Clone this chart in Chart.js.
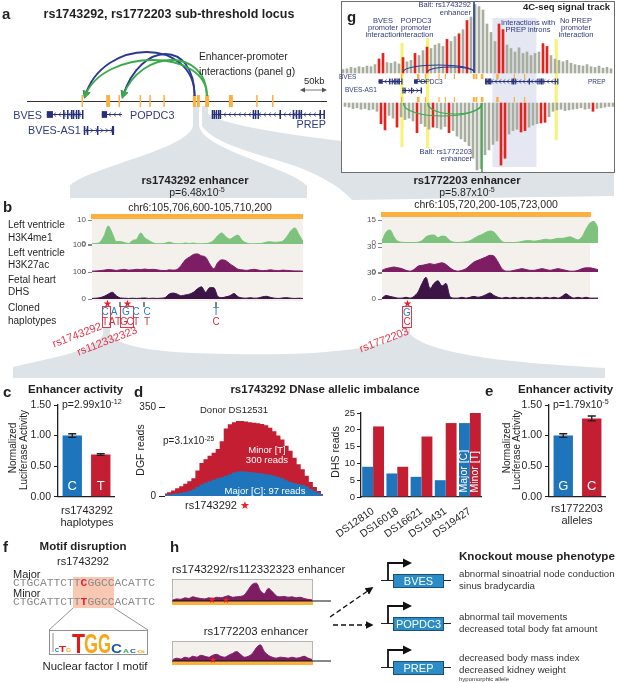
<!DOCTYPE html>
<html>
<head>
<meta charset="utf-8">
<title>rs1743292 / rs1772203 sub-threshold locus</title>
<script src="https://cdn.jsdelivr.net/npm/chart.js@4.4.1/dist/chart.umd.min.js"></script>
<style>
  html, body { margin: 0; padding: 0; background: #fff; }
  #fig { position: relative; width: 617px; height: 683px; overflow: hidden;
         font-family: "Liberation Sans", Arial, Helvetica, sans-serif; color: #231f20; }
  #fig canvas, #fig svg, .t, .blk { position: absolute; }
  .t { white-space: nowrap; line-height: 1; }
  .seq { font-family: "Liberation Mono", "DejaVu Sans Mono", monospace; color: #8a8a8a; }
</style>
</head>
<body>
<div id="fig"></div>
<script>
// ---------------- data ----------------

// panel a / g : locus, positions in kb from the left end of the drawn region
const geneNames  = ["BVES", "POPDC3", "PREP", "BVES-AS1"];
const geneStart  = [45, 170, 420, 129];
const geneEnd    = [127, 216, 676, 198];
const geneStrand = [-1, -1, -1, 1];
const geneRow    = [0, 0, 0, 1];
const geneExons  = [
  [[45, 59], [82, 84], [91, 93], [100, 102], [104, 106], [111, 113], [116, 118], [125, 127]],
  [[170, 182]],
  [[420, 422], [424, 426], [429, 431], [434, 436], [438, 440], [513, 515], [518, 520], [524, 526],
   [574, 576], [604, 606], [611, 613], [617, 619], [622, 624], [665, 667], [674, 676]],
  [[129, 131], [136, 138], [159, 161], [193, 198]]
];
const enhStart = [124, 180, 208, 256, 278, 310, 377, 386, 405, 459, 521, 557];
const enhEnd   = [126, 189, 210, 258, 280, 312, 384, 393, 414, 468, 523, 559];
// enhancer -> promoter interactions (kb)
const arcFrom = [381, 381, 409, 409];
const arcTo   = [132, 218, 132, 218];

// panel b : signal tracks
const h3k4me1Left = [0.1,0.2,0.8,3.5,7.5,4.5,1.0,1.0,0.6,0.2, 1.5,2.0,4.6,2.5,1.5,0.5,0.1,0.1,0.3,0.8,
                     0.3,0.1,0.1,0.4,0.2,0.4,0.1,0.1,0.2,0.5, 1.5,3.5,4.6,3.0,2.0,3.0,3.7,1.5,0.5,0.1,
                     0.1,0.2,0.3,0.8,0.9,0.7,0.8,1.2,3.0,5.5, 6.7,4.0,1.0];
const h3k27acLeft = [3,4,5,7,9,8,6,8,10,7, 8,10,9,11,9,10,8,6,5,8, 7,10,25,45,55,65,67,60,55,30,
                     12,35,45,42,30,20,10,8,6,8, 10,7,5,6,8,6,5,7,6,5, 4,4,3];
const dhsLeft     = [2,3,5,10,18,25,12,4,3,2, 3,2,3,4,2,3,2,3,5,18, 22,18,12,15,18,25,38,45,25,42,
                     42,10,5,8,12,20,8,4,3,5, 3,4,8,10,6,3,2,4,5,3, 2,3,2];
const h3k4me1Right = [1.5,7,8.5,4,1,0.5,0.3,0.3,0.3,0.5, 1.5,4,5,5.2,3.5,4.5,4,1.5,0.5,0.3,
                      0.5,0.8,1.5,3,4.5,5.5,7,7.8,7,4, 1,0.3,0.3,0.3,0.5,1,1.5,1.5,1.2,1.5,
                      2,2.5,2,2.5,3,3,3.5,4,3,2, 4,9,13,14,10];
const h3k27acRight = [2,4,5,6,5,4,2,1,3,7, 8,9,10,9,10,11,9,5,2,1, 2,4,8,12,14,16,18,20,19,12,
                      4,1,1,2,3,4,3,2,2,3, 4,3,2,3,4,3,2,1,1,2, 4,5,5,4,3];
const dhsRight     = [1,4,3,2,1,1,2,1,3,8, 18,25,12,18,21,15,18,3,1,1, 2,1,2,3,2,3,5,7,4,2,
                      1,2,1,2,1,2,1,2,1,2, 1,2,1,2,1,3,6,3,1,2, 1,2,1,1,1];

// panel c : rs1743292 haplotypes
const hapLabels   = ["C", "T"];
const hapActivity = [1.00, 0.69];
const hapErr      = [0.03, 0.015];
const activityTicks = [0, 0.5, 1.0, 1.5];

// panel d : DGF reads (donor DS12531) and DHS reads per donor
const dgfMinor = [10,15,22,30,38,48,58,70,100,130, 145,158,170,185,215,265,282,290,295,295,
                  293,290,288,286,283,278,268,255,238,222, 198,178,150,125,105,80,55,35,20,8];
const dgfMajor = [4,6,8,10,13,16,20,27,35,45, 52,58,64,70,74,80,86,92,96,97,
                  96,94,92,90,88,86,84,80,75,70, 62,55,50,47,44,38,28,20,12,5];
const dgfTicks = [0, 350];
const donors   = ["DS12810", "DS16018", "DS16621", "DS19431", "DS19427"];
const dhsMajor = [9, 7, 6, 5, 22];
const dhsMinor = [21, 9, 18, 22, 25];

// panel e : rs1772203 alleles
const alleleLabels   = ["G", "C"];
const alleleActivity = [1.00, 1.28];
const alleleErr      = [0.03, 0.04];

// panel g : 4C-seq signal (bins left to right), top = rs1743292 bait, bottom = rs1772203 bait
const c4Top = [5, 6,8,7,9,8,10,9,12,20,28, 15,14,16,13,22,16,18,28,25,32, 37,35,40,42,38,48,45,52,56,62,
               75,80,98,95,90,70,58,45,70,62, 40,35,30,36,28,30,25,28,30,42, 38,25,20,18,16,18,14,12,11,10,
               12,9,8,10,7,8,6];
const c4TopSignif = [9,10,15,18,21,26,29,31,39,40,50,51];
const c4Bot = [5, 6,8,7,9,8,10,9,12,30,39, 18,22,35,20,24,22,26,43,30,34, 38,35,36,38,34,43,40,48,52,56,
               62,80,97,95,75,68,60,55,90,80, 45,40,38,42,40,35,32,30,29,28, 20,12,10,9,11,10,9,8,7,9,
               8,12,8,7,6,5,5];
const c4BotSignif = [9,10,13,18,22,26,39,40,44,45,49,50,62];

// panel h : enhancer H3K27ac
const hTrack1 = [5,10,8,15,12,20,15,12,10,15, 12,18,15,20,25,18,20,22,30,55, 80,85,50,35,60,45,25,20,22,18,
                 20,15,18,12,8,5];
const hTrack2 = [8,15,10,20,15,25,20,30,25,20, 30,35,25,20,30,40,50,35,20,25, 40,70,85,50,30,20,15,20,18,15,
                 20,15,18,25,15,8];
const koGenes = ["BVES", "POPDC3", "PREP"];
const koPhenotypes = [
  ["abnormal sinoatrial node conduction", "sinus bradycardia"],
  ["abnormal tail movements", "decreased total body fat amount"],
  ["decreased body mass index", "decreased kidney weight"]
];

// ---------------- colours ----------------
const BLUE = "#1e75bb", RED = "#c41e32", INK = "#231f20";
const NAVY = "#2b3990", GENE = "#262f7a", GENE_TXT = "#2e3b80", ARC_GREEN = "#3aaa4a";
const ORANGE = "#fbb040", GREEN_TR = "#7dc37d", PURPLE = "#7d1e64", DARK = "#3c1446";
const GREY4C = "#a8ae9f", RED4C = "#e42320", FUNNEL = "#dde3e6", BEIGE = "#f4f1ec", SNP_RED = "#e2364b";

Chart.defaults.font.family = "'Liberation Sans', Arial, sans-serif";
Chart.defaults.color = INK;
Chart.defaults.animation = false;
Chart.defaults.responsive = false;
Chart.defaults.maintainAspectRatio = false;
Chart.defaults.plugins.legend.display = false;
Chart.defaults.plugins.tooltip.enabled = false;

const fig = document.getElementById("fig");

function mkCanvas(x, y, w, h) {
  const c = document.createElement("canvas");
  c.width = w; c.height = h;
  Object.assign(c.style, { left: x + "px", top: y + "px", width: w + "px", height: h + "px" });
  fig.appendChild(c);
  return c;
}

function rect(x, y, w, h, css) {
  const d = document.createElement("div");
  d.className = "blk";
  Object.assign(d.style, { left: x + "px", top: y + "px", width: w + "px", height: h + "px", boxSizing: "border-box" }, css);
  fig.appendChild(d);
}

function txt(html, x, y, o = {}) {
  const d = document.createElement("div");
  d.className = "t" + (o.cls ? " " + o.cls : "");
  d.innerHTML = html;
  d.style.left = x + "px";
  d.style.top = y + "px";
  d.style.fontSize = (o.size || 11) + "px";
  if (o.bold) d.style.fontWeight = "bold";
  if (o.color) d.style.color = o.color;
  const ax = o.align === "center" ? "-50%" : o.align === "right" ? "-100%" : "0";
  d.style.transform = "translate(" + ax + ",-50%)" + (o.rot ? " rotate(" + o.rot + "deg)" : "");
  fig.appendChild(d);
}
const sup = s => '<span style="font-size:68%;position:relative;top:-0.5em">' + s + "</span>";

// ---------------- background shapes ----------------
fig.insertAdjacentHTML("beforeend", `
<svg width="617" height="683" style="left:0;top:0">
  <g fill="${FUNNEL}">
    <path d="M193,106 L199,106 L199,126 C203,150 292,168 307,186 L307,198 L70,198 L70,186 C85,168 188,150 193,126 Z"/>
    <path d="M202,106 L208,106 L208,114 C240,135 420,150 614,168 L614,196 L352,200 C342,188 320,175 295,166 C260,154 215,145 202,126 Z"/>
    <path d="M13,378 L13,367 C40,360 96,352 103,334 L103,328 L110,328 L110,334 C122,350 170,353 230,354 C310,356 385,350 404,334 L404,328 L410,328 L410,334 C428,352 490,362 605,368 L605,378 Z"/>
  </g>
</svg>`);

// panel g frame, panel b backgrounds, panel h backgrounds
rect(341, 1, 274, 172, { background: "#fff", border: "1px solid #6d6e71" });
rect(92, 219, 211, 82, { background: BEIGE });
rect(382, 217, 208, 83, { background: BEIGE });
rect(91, 214, 212, 5, { background: ORANGE });
rect(381, 212, 210, 5, { background: ORANGE });
rect(172, 579, 141, 22, { background: BEIGE, border: "1px solid #b5b5b5" });
rect(172, 641, 141, 20, { background: BEIGE, border: "1px solid #b5b5b5" });
rect(172, 601, 141, 4, { background: ORANGE });
rect(172, 661, 141, 4, { background: ORANGE });
rect(73, 577, 41, 31, { background: "#f9c8b2" });
// haplotype boxes
rect(102, 306, 9, 22, { border: "1px solid " + SNP_RED });
rect(120, 306, 14, 22, { border: "1px solid " + SNP_RED });
rect(402, 306, 10, 22, { border: "1px solid " + SNP_RED });

// ---------------- plugins ----------------
function drawLocus(chart, o) {
  const ctx = chart.ctx, xs = chart.scales[o.xId], top = chart.chartArea.top;
  const px = kb => xs.getPixelForValue(kb);
  ctx.save();
  if (o.baseline != null) {
    ctx.strokeStyle = "#333"; ctx.lineWidth = 1;
    ctx.beginPath(); ctx.moveTo(chart.chartArea.left, top + o.baseline + 0.5);
    ctx.lineTo(chart.chartArea.right, top + o.baseline + 0.5); ctx.stroke();
  }
  ctx.fillStyle = ORANGE;
  o.enhRows.forEach(([y0, y1]) => enhStart.forEach((s, i) => {
    const x0 = px(s), w = Math.max(o.minW, px(enhEnd[i]) - x0);
    ctx.fillRect(x0, top + y0, w, y1 - y0);
  }));
  geneNames.forEach((g, i) => {
    const y = top + o.geneRows[geneRow[i]];
    const xa = px(geneStart[i]), xb = px(geneEnd[i]);
    ctx.strokeStyle = GENE; ctx.lineWidth = 1;
    ctx.beginPath(); ctx.moveTo(xa, y + 0.5); ctx.lineTo(xb, y + 0.5); ctx.stroke();
    ctx.lineWidth = 0.7;
    for (let x = xa + 3; x < xb - 2; x += o.chev) {
      const d = geneStrand[i] * 1.3;
      ctx.beginPath(); ctx.moveTo(x - d, y - 1.5); ctx.lineTo(x + d, y + 0.5); ctx.lineTo(x - d, y + 2.5); ctx.stroke();
    }
    ctx.fillStyle = GENE;
    geneExons[i].forEach(([s, e]) => {
      const x0 = px(s), w = Math.max(o.minW, px(e) - x0);
      const h = w > 3 ? o.exH * 0.75 : o.exH;
      ctx.fillRect(x0, y + 0.5 - h / 2, w, h);
    });
  });
  arcFrom.forEach((f, i) => {
    const x1 = px(f), x2 = px(arcTo[i]);
    const yb = top + o.arcBase[i], yp = top + o.arcPeak[i];
    const yc = yb + (yp - yb) / 0.75;
    ctx.strokeStyle = o.arcColor[i]; ctx.lineWidth = o.arcW;
    ctx.beginPath(); ctx.moveTo(x1, yb);
    ctx.bezierCurveTo(x1, yc, x2 + o.lean, yc, x2, yb); ctx.stroke();
    if (o.arrow) {
      const a = Math.atan2(yb - yc, -o.lean);
      ctx.fillStyle = o.arcColor[i];
      ctx.beginPath();
      ctx.moveTo(x2 + Math.cos(a) * 3, yb + Math.sin(a) * 3);
      ctx.lineTo(x2 - Math.cos(a) * 5 - Math.sin(a) * 4, yb - Math.sin(a) * 5 + Math.cos(a) * 4);
      ctx.lineTo(x2 - Math.cos(a) * 5 + Math.sin(a) * 4, yb - Math.sin(a) * 5 - Math.cos(a) * 4);
      ctx.closePath(); ctx.fill();
    }
  });
  (o.baits || []).forEach(b => {
    ctx.strokeStyle = b.color; ctx.lineWidth = 1.6;
    ctx.beginPath(); ctx.moveTo(px(b.kb), top + b.y0); ctx.lineTo(px(b.kb), top + b.y1); ctx.stroke();
  });
  ctx.restore();
}

const locusPlugin = {
  id: "locus",
  beforeDatasetsDraw(chart, args, o) {
    if (!o.bands) return;
    const xs = chart.scales[o.xId], top = chart.chartArea.top, ctx = chart.ctx;
    o.bands.forEach(b => {
      ctx.fillStyle = b.color;
      ctx.fillRect(xs.getPixelForValue(b.kb0), top + b.y0, xs.getPixelForValue(b.kb1) - xs.getPixelForValue(b.kb0), b.y1 - b.y0);
    });
  },
  afterDatasetsDraw(chart, args, o) { drawLocus(chart, o); }
};

const errorBarPlugin = {
  id: "errorBars",
  afterDatasetsDraw(chart, args, o) {
    const ctx = chart.ctx, ys = chart.scales.y, meta = chart.getDatasetMeta(0);
    const vals = chart.data.datasets[0].data;
    ctx.save();
    ctx.strokeStyle = INK; ctx.lineWidth = 1.3;
    meta.data.forEach((bar, i) => {
      const y0 = ys.getPixelForValue(vals[i] - o.err[i]), y1 = ys.getPixelForValue(vals[i] + o.err[i]);
      ctx.beginPath();
      ctx.moveTo(bar.x, y0); ctx.lineTo(bar.x, y1);
      ctx.moveTo(bar.x - 4, y0); ctx.lineTo(bar.x + 4, y0);
      ctx.moveTo(bar.x - 4, y1); ctx.lineTo(bar.x + 4, y1);
      ctx.stroke();
    });
    ctx.fillStyle = "#fff"; ctx.font = "13px 'Liberation Sans', Arial"; ctx.textAlign = "center"; ctx.textBaseline = "middle";
    meta.data.forEach((bar, i) => ctx.fillText(chart.data.labels[i], bar.x, bar.base - 10));
    ctx.restore();
  }
};

const inBarText = {
  id: "inBarText",
  afterDatasetsDraw(chart, args, o) {
    const ctx = chart.ctx;
    ctx.save();
    ctx.fillStyle = "#fff"; ctx.font = "10.5px 'Liberation Sans', Arial"; ctx.textBaseline = "middle"; ctx.textAlign = "left";
    o.items.forEach(it => {
      const bar = chart.getDatasetMeta(it.ds).data[it.index];
      ctx.save(); ctx.translate(bar.x, bar.base - 4); ctx.rotate(-Math.PI / 2); ctx.fillText(it.text, 0, 0); ctx.restore();
    });
    ctx.restore();
  }
};

// ---------------- panel a ----------------
new Chart(mkCanvas(27, 40, 300, 100), {
  type: "scatter",
  data: { datasets: [] },
  options: {
    layout: { padding: 0 },
    scales: { x: { type: "linear", display: false, min: 0, max: 682 }, y: { display: false, min: 0, max: 100 } },
    plugins: { locus: {
      xId: "x", baseline: 61, enhRows: [[55, 67]], geneRows: [74, 90], exH: 9, minW: 1.5, chev: 5,
      arcBase: [56, 56, 56, 56], arcPeak: [12, 14, 20, 20], arcColor: [NAVY, NAVY, ARC_GREEN, ARC_GREEN],
      arcW: 1.8, lean: 18, arrow: true
    } }
  },
  plugins: [locusPlugin]
});

// ---------------- panel g ----------------
new Chart(mkCanvas(342, 2, 272, 170), {
  type: "bar",
  data: {
    labels: c4Top.map((_, i) => i),
    datasets: [
      { data: c4Top, yAxisID: "y", backgroundColor: c => c4TopSignif.includes(c.dataIndex) ? RED4C : GREY4C,
        barPercentage: 1, categoryPercentage: 1, borderWidth: 0 },
      { data: c4Bot, yAxisID: "y2", backgroundColor: c => c4BotSignif.includes(c.dataIndex) ? RED4C : GREY4C,
        barPercentage: 1, categoryPercentage: 1, borderWidth: 0 }
    ]
  },
  options: {
    layout: { padding: 0 },
    scales: {
      x: { display: false },
      y: { display: false, min: -141.43, max: 101.43 },
      y2: { display: false, min: -146.38, max: 100, reverse: true },
      xk: { type: "linear", axis: "x", display: false, min: 12, max: 778.2 }
    },
    plugins: { locus: {
      xId: "xk", baseline: null, enhRows: [[72, 77], [95, 100]], geneRows: [79, 88], exH: 6, minW: 1.2, chev: 4,
      arcBase: [70, 70, 101, 101], arcPeak: [63, 65, 114, 112], arcColor: [NAVY, NAVY, ARC_GREEN, ARC_GREEN],
      arcW: 1.2, lean: 0, arrow: false,
      baits: [{ kb: 381, y0: 0, y1: 71, color: NAVY }, { kb: 409, y0: 101, y1: 170, color: ARC_GREEN }],
      bands: [
        { kb0: 446, kb1: 601, y0: 16, y1: 165, color: "#e5e7f3" },
        { kb0: 122, kb1: 133, y0: 41, y1: 145, color: "#f6f27a" },
        { kb0: 212, kb1: 223, y0: 36, y1: 146, color: "#f6f27a" },
        { kb0: 665, kb1: 676, y0: 37, y1: 138, color: "#f6f27a" }
      ]
    } }
  },
  plugins: [locusPlugin]
});

// ---------------- panel b tracks ----------------
function track(areaLeft, areaRight, top, bottom, values, maxV, color, axisW) {
  const cv = mkCanvas(areaLeft - axisW, top - 8, areaRight - areaLeft + axisW, bottom - top + 16);
  return new Chart(cv, {
    type: "line",
    data: { labels: values.map((_, i) => i),
      datasets: [{ data: values, fill: "origin", backgroundColor: color, borderColor: color, borderWidth: 1,
                   pointRadius: 0, cubicInterpolationMode: "monotone" }] },
    options: {
      layout: { padding: { top: 8, bottom: 8, left: 0, right: 0 } },
      scales: {
        x: { display: false },
        y: { min: 0, max: maxV,
             afterBuildTicks: s => { s.ticks = [{ value: 0 }, { value: maxV }]; },
             afterFit: s => { s.width = axisW; },
             ticks: { font: { size: 8 }, color: "#555", padding: 2 },
             grid: { drawOnChartArea: false, tickLength: 4, color: "#888" },
             border: { display: false } }
      }
    }
  });
}
track(92, 303, 220, 244, h3k4me1Left, 10, GREEN_TR, 32);
track(92, 303, 245, 272, h3k27acLeft, 100, PURPLE, 32);
track(92, 303, 272, 299, dhsLeft, 100, DARK, 32);
track(382, 598, 220, 243, h3k4me1Right, 15, GREEN_TR, 32);
track(382, 598, 247, 272, h3k27acRight, 30, PURPLE, 32);
track(382, 598, 273, 299, dhsRight, 30, DARK, 32);

// ---------------- panel c / e ----------------
function activityChart(left, width, axisW, labels, values, err) {
  return new Chart(mkCanvas(left, 395, width, 111), {
    type: "bar",
    data: { labels, datasets: [{ data: values, backgroundColor: [BLUE, RED], barPercentage: 0.68, categoryPercentage: 1 }] },
    options: {
      layout: { padding: { top: 10, bottom: 6, left: 0, right: 0 } },
      scales: {
        x: { grid: { display: false }, ticks: { display: false }, border: { color: INK, width: 1.3 },
             afterFit: s => { s.height = 2; } },
        y: { min: 0, max: 1.5,
             afterBuildTicks: s => { s.ticks = activityTicks.map(v => ({ value: v })); },
             ticks: { callback: v => v.toFixed(2), font: { size: 10.5 }, color: INK, padding: 3 },
             grid: { drawOnChartArea: false, tickLength: 4, color: INK },
             border: { color: INK, width: 1.3 },
             afterFit: s => { s.width = axisW; } }
      },
      plugins: { errorBars: { err } }
    },
    plugins: [errorBarPlugin]
  });
}
activityChart(20, 95, 38, hapLabels, hapActivity, hapErr);
activityChart(515, 91, 34, alleleLabels, alleleActivity, alleleErr);

// ---------------- panel d ----------------
new Chart(mkCanvas(130, 397, 193, 108), {
  type: "line",
  data: { labels: dgfMinor.map((_, i) => i), datasets: [
    { data: dgfMajor, fill: "origin", backgroundColor: BLUE, borderColor: BLUE, borderWidth: 0, pointRadius: 0, stepped: "middle" },
    { data: dgfMinor, fill: "origin", backgroundColor: RED, borderColor: RED, borderWidth: 0, pointRadius: 0, stepped: "middle" }
  ] },
  options: {
    layout: { padding: { top: 10, bottom: 8, left: 0, right: 0 } },
    scales: {
      x: { display: false },
      y: { min: 0, max: 350,
           afterBuildTicks: s => { s.ticks = dgfTicks.map(v => ({ value: v })); },
           afterFit: s => { s.width = 35; },
           ticks: { font: { size: 10 }, color: INK, padding: 3 },
           grid: { drawOnChartArea: false, tickLength: 6, color: INK },
           border: { display: false } }
    }
  }
});

new Chart(mkCanvas(325, 403, 157, 139), {
  type: "bar",
  data: { labels: donors, datasets: [
    { data: dhsMajor, backgroundColor: BLUE, barPercentage: 1, categoryPercentage: 0.9 },
    { data: dhsMinor, backgroundColor: RED, barPercentage: 1, categoryPercentage: 0.9 }
  ] },
  options: {
    layout: { padding: { top: 10, bottom: 0, left: 0, right: 0 } },
    scales: {
      x: { grid: { display: false }, border: { color: INK, width: 1.3 },
           ticks: { minRotation: 35, maxRotation: 35, autoSkip: false, font: { size: 10.5 }, color: INK, padding: 0 },
           afterFit: s => { s.height = 45; } },
      y: { min: 0, max: 25, ticks: { stepSize: 5, font: { size: 9.5 }, color: INK, padding: 2 },
           grid: { drawOnChartArea: false, tickLength: 4, color: INK },
           border: { color: INK, width: 1.3 },
           afterFit: s => { s.width = 36; } }
    },
    plugins: { inBarText: { items: [{ ds: 0, index: 4, text: "Major [C]" }, { ds: 1, index: 4, text: "Minor [T]" }] } }
  },
  plugins: [inBarText]
});

// ---------------- panel h tracks ----------------
function miniTrack(top, h, values) {
  new Chart(mkCanvas(173, top, 139, h), {
    type: "line",
    data: { labels: values.map((_, i) => i),
      datasets: [{ data: values, fill: "origin", backgroundColor: PURPLE, borderColor: PURPLE, borderWidth: 1,
                   pointRadius: 0, cubicInterpolationMode: "monotone" }] },
    options: { layout: { padding: 0 }, scales: { x: { display: false }, y: { display: false, min: 0, max: 100 } } }
  });
}
miniTrack(580, 21, hTrack1);
miniTrack(642, 19, hTrack2);

// ---------------- overlay drawing (connectors, logo, diagram) ----------------
let koSvg = "";
koGenes.forEach((g, i) => {
  const top = [574, 617, 661][i], mid = top + 6.5;
  koSvg += `<line x1="381" y1="${mid}" x2="451" y2="${mid}" stroke="#222" stroke-width="1"/>
    <path d="M388,${mid} V${top - 11} H404" stroke="#111" stroke-width="1.8" fill="none"/>
    <path d="M403,${top - 15.5} L412,${top - 11} L403,${top - 6.5} Z" fill="#111"/>
    <rect x="393.5" y="${top + 0.5}" width="50" height="13" fill="#2b8dc5" stroke="#1b4f7a" stroke-width="1"/>
    <text x="418.5" y="${top + 11}" fill="#fff" font-size="11" text-anchor="middle">${g}</text>`;
});
fig.insertAdjacentHTML("beforeend", `
<svg width="617" height="683" style="left:0;top:0" font-family="Liberation Sans, Arial, sans-serif">
  <defs><marker id="arr" viewBox="0 0 10 10" refX="8" refY="5" markerWidth="6" markerHeight="6" orient="auto">
    <path d="M0,0 L10,5 L0,10 Z" fill="#111"/></marker></defs>
  <line x1="302" y1="90" x2="325" y2="90" stroke="#555" stroke-width="0.8"/>
  <path d="M300,90 l5,-2.5 v5 Z M327,90 l-5,-2.5 v5 Z" fill="#555"/>
  <g stroke="#333" stroke-width="1.2">
    <line x1="120" y1="302" x2="120" y2="307"/><line x1="144" y1="302" x2="144" y2="307"/>
    <line x1="216" y1="302" x2="216" y2="307"/>
  </g>
  <g stroke="#777" stroke-width="0.8" fill="none">
    <line x1="73" y1="608" x2="49" y2="630"/><line x1="114" y1="608" x2="148" y2="630"/>
    <rect x="49.5" y="630.5" width="98" height="24"/>
    <line x1="53" y1="633" x2="53" y2="652"/>
  </g>
  <g font-weight="bold">
    <text x="55" y="652" font-size="6" fill="#1c5aa6" textLength="4" lengthAdjust="spacingAndGlyphs">C</text>
    <text x="59" y="652" font-size="9" fill="#e31a1c" textLength="7" lengthAdjust="spacingAndGlyphs">T</text>
    <text x="66" y="652" font-size="5" fill="#f6a81b" textLength="5" lengthAdjust="spacingAndGlyphs">G</text>
    <text x="72" y="653" font-size="28" fill="#e31a1c" textLength="13" lengthAdjust="spacingAndGlyphs">T</text>
    <text x="84" y="653" font-size="28" fill="#f6a81b" textLength="14" lengthAdjust="spacingAndGlyphs">G</text>
    <text x="98" y="653" font-size="28" fill="#f6a81b" textLength="13" lengthAdjust="spacingAndGlyphs">G</text>
    <text x="111" y="653" font-size="12" fill="#1c5aa6" textLength="11" lengthAdjust="spacingAndGlyphs">C</text>
    <text x="123" y="653" font-size="5" fill="#3aaa4a" textLength="6" lengthAdjust="spacingAndGlyphs">A</text>
    <text x="130" y="653" font-size="5" fill="#1c5aa6" textLength="6" lengthAdjust="spacingAndGlyphs">C</text>
    <text x="137" y="653" font-size="4" fill="#f6a81b" textLength="8" lengthAdjust="spacingAndGlyphs">G</text>
  </g>
  <line x1="172" y1="601" x2="331" y2="601" stroke="#111" stroke-width="1.2"/>
  <line x1="172" y1="661" x2="331" y2="661" stroke="#111" stroke-width="1.2"/>
  <g stroke="#111" stroke-width="1.3" stroke-dasharray="5,3" marker-end="url(#arr)">
    <line x1="330" y1="617" x2="372" y2="588"/>
    <line x1="333" y1="625" x2="372" y2="625"/>
  </g>
  ${koSvg}
</svg>`);

// ---------------- text ----------------
const P = { size: 15, bold: true };
// a
txt("a", 2, 13, P);
txt("rs1743292, rs1772203 sub-threshold locus", 169, 14, { size: 12.5, bold: true, align: "center" });
txt("Enhancer-promoter", 199, 57, { size: 10.3 });
txt("interactions (panel g)", 199, 72, { size: 10.3 });
txt("50kb", 304, 81, { size: 9.5 });
txt("BVES", 42, 115, { size: 10.8, color: GENE_TXT, align: "right" });
txt("POPDC3", 130, 115, { size: 10.8, color: GENE_TXT });
txt("PREP", 326, 124, { size: 10.8, color: GENE_TXT, align: "right" });
txt("BVES-AS1", 28, 130, { size: 10.8, color: GENE_TXT });
// g
txt("g", 347, 16, P);
txt("4C-seq signal track", 610, 7, { size: 9.5, bold: true, align: "right" });
const G = { size: 7.5, color: GENE_TXT };
txt("Bait: rs1743292", 471, 5, { ...G, align: "right" });
txt("enhancer", 471, 13, { ...G, align: "right" });
[["BVES", 383], ["POPDC3", 416], ["No PREP", 576]].forEach(([n, x]) => {
  txt(n, x, 21, { ...G, align: "center" });
  txt("promoter", x, 28, { ...G, align: "center" });
  txt("interaction", x, 35, { ...G, align: "center" });
});
txt("Interactions with", 528, 23, { ...G, align: "center" });
txt("PREP introns", 528, 30, { ...G, align: "center" });
txt("BVES", 339, 77, { size: 6.5, color: GENE_TXT });
txt("POPDC3", 416, 82, { size: 6.5, color: GENE_TXT });
txt("PREP", 588, 82, { size: 6.5, color: GENE_TXT });
txt("BVES-AS1", 345, 90, { size: 6.5, color: GENE_TXT });
txt("Bait: rs1772203", 472, 152, { ...G, align: "right" });
txt("enhancer", 472, 159, { ...G, align: "right" });
// b
txt("b", 3, 206, P);
txt("rs1743292 enhancer", 195, 181, { size: 11.2, bold: true, align: "center" });
txt("p=6.48x10" + sup("-5"), 197, 193, { size: 10.5, align: "center" });
txt("chr6:105,706,600-105,710,200", 200, 207, { size: 10.5, align: "center" });
txt("rs1772203 enhancer", 467, 181, { size: 11.2, bold: true, align: "center" });
txt("p=5.87x10" + sup("-5"), 467, 193, { size: 10.5, align: "center" });
txt("chr6:105,720,200-105,723,000", 486, 204, { size: 10.5, align: "center" });
[["Left ventricle", 225], ["H3K4me1", 238], ["Left ventricle", 253], ["H3K27ac", 265],
 ["Fetal heart", 280], ["DHS", 292], ["Cloned", 308], ["haplotypes", 321]].forEach(([s, y]) => txt(s, 8, y, { size: 10 }));
const HB = { size: 10, color: "#2a7fc1", align: "center" }, HR = { size: 10, color: "#d03040", align: "center" };
[["C", 105], ["A", 114], ["G", 126], ["C", 136], ["C", 147]].forEach(([s, x]) => txt(s, x, 312, HB));
[["T", 105], ["A", 112], ["T", 118], ["G", 124], ["C", 130], ["T", 136], ["T", 147]].forEach(([s, x]) => txt(s, x, 322, HR));
txt("T", 216, 312, HB); txt("C", 216, 322, HR);
txt("G", 407, 313, HB); txt("C", 407, 322, HR);
[[107, 304], [127, 304], [407, 304]].forEach(([x, y]) => txt("★", x, y, { size: 10, color: "#e8202a", align: "center" }));
txt("rs1743292", 77, 335, { size: 11, color: SNP_RED, align: "center", rot: -21 });
txt("rs112332323", 107, 341, { size: 11, color: SNP_RED, align: "center", rot: -21 });
txt("rs1772203", 384, 340, { size: 11, color: SNP_RED, align: "center", rot: -21 });
// c
txt("c", 3, 391, P);
txt("Enhancer activity", 28, 390, { size: 11.5, bold: true });
txt("p=2.99x10" + sup("-12"), 62, 405, { size: 10.5 });
txt("Normalized", 13, 448, { size: 10, align: "center", rot: -90 });
txt("Luciferase Activity", 24, 450, { size: 10, align: "center", rot: -90 });
txt("rs1743292", 87, 510, { size: 11, align: "center" });
txt("haplotypes", 87, 522, { size: 11, align: "center" });
// d
txt("d", 134, 391, P);
txt("rs1743292 DNase allelic imbalance", 325, 390, { size: 11.5, bold: true, align: "center" });
txt("DGF reads", 140, 450, { size: 10.5, align: "center", rot: -90 });
txt("Donor DS12531", 200, 410, { size: 9.5 });
txt("p=3.1x10" + sup("-25"), 163, 441, { size: 10 });
txt("Minor [T]", 267, 450, { size: 9.5, color: "#fff", align: "center" });
txt("300 reads", 267, 460, { size: 9.5, color: "#fff", align: "center" });
txt("Major [C]: 97 reads", 265, 491, { size: 9.5, color: "#fff", align: "center" });
txt('rs1743292 <span style="color:#e8202a">★</span>', 185, 505, { size: 11 });
txt("DHS reads", 335, 452, { size: 10.5, align: "center", rot: -90 });
// e
txt("e", 485, 390, P);
txt("Enhancer activity", 518, 390, { size: 11.5, bold: true });
txt("p=1.79x10" + sup("-5"), 553, 405, { size: 10.5 });
txt("Normalized", 507, 448, { size: 10, align: "center", rot: -90 });
txt("Luciferase Activity", 517, 450, { size: 10, align: "center", rot: -90 });
txt("rs1772203", 577, 508, { size: 11, align: "center" });
txt("alleles", 577, 520, { size: 11, align: "center" });
// f
txt("f", 3, 546, P);
txt("Motif disruption", 83, 547, { size: 11.5, bold: true, align: "center" });
txt("rs1743292", 83, 561, { size: 11, align: "center" });
txt("Major", 13, 574, { size: 11 });
txt("Minor", 13, 593, { size: 11 });
const hl = c => '<b style="color:#d7263d">' + c + "</b>";
txt("CTGCATTCTT" + hl("C") + "GGCCACATTC", 13, 584, { size: 11.27, cls: "seq" });
txt("CTGCATTCTT" + hl("T") + "GGCCACATTC", 13, 603, { size: 11.27, cls: "seq" });
txt("Nuclear factor I motif", 95, 667, { size: 11.4, align: "center" });
// h
txt("h", 170, 546, P);
txt("rs1743292/rs112332323 enhancer", 172, 570, { size: 11.4 });
txt("rs1772203 enhancer", 256, 632, { size: 11.4, align: "center" });
[[212, 600], [226, 600], [213, 660]].forEach(([x, y]) => txt("★", x, y, { size: 9, color: "#e8202a", align: "center" }));
txt("Knockout mouse phenotype", 459, 556, { size: 11.6, bold: true });
koPhenotypes.forEach((lines, i) => {
  const y0 = [574, 617, 658][i];
  lines.forEach((s, j) => txt(s, 459, y0 + j * 12, { size: 9.7, color: "#333" }));
});
txt("hypomorphic allele", 459, 679, { size: 6, color: "#333" });
</script>
</body>
</html>
